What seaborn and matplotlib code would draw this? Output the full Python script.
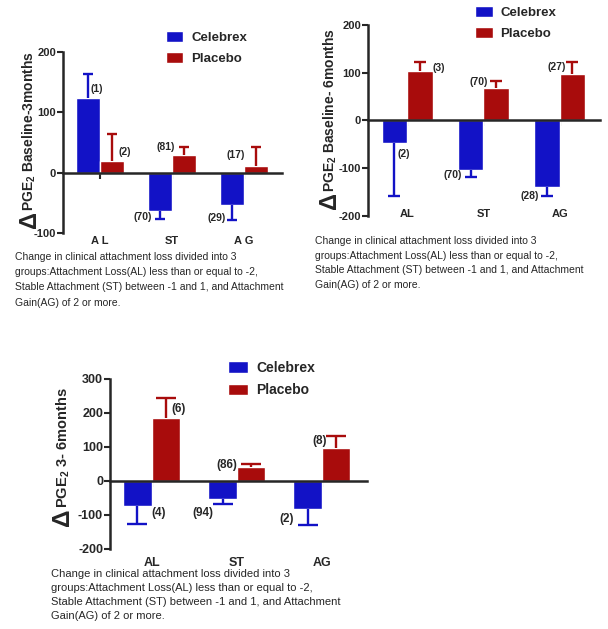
import matplotlib
matplotlib.use("Agg")
import matplotlib.pyplot as plt
import seaborn as sns
import pandas as pd

# Data
groups = ["Celebrex", "Placebo"]
bar_colors = ["#1212c6", "#a80c0c"]

# Baseline - 3 months
p1_cats = ["A L", "ST", "A G"]
p1_celebrex = [123, -64, -53]
p1_celebrex_err = [40, 13, 25]
p1_placebo = [19, 29, 11]
p1_placebo_err = [45, 13, 32]
p1_celebrex_n = ["(1)", "(70)", "(29)"]
p1_placebo_n = ["(2)", "(81)", "(17)"]
p1_yticks = [-100, 0, 100, 200]

# Baseline - 6 months
p2_cats = ["AL", "ST", "AG"]
p2_celebrex = [-47, -103, -140]
p2_celebrex_err = [111, 16, 18]
p2_placebo = [103, 67, 98]
p2_placebo_err = [19, 15, 24]
p2_celebrex_n = ["(2)", "(70)", "(28)"]
p2_placebo_n = ["(3)", "(70)", "(27)"]
p2_yticks = [-200, -100, 0, 100, 200]

# 3 - 6 months
p3_cats = ["AL", "ST", "AG"]
p3_celebrex = [-74, -54, -83]
p3_celebrex_err = [53, 13, 47]
p3_placebo = [184, 40, 98]
p3_placebo_err = [59, 9, 34]
p3_celebrex_n = ["(4)", "(94)", "(2)"]
p3_placebo_n = ["(6)", "(86)", "(8)"]
p3_yticks = [-200, -100, 0, 100, 200, 300]

caption = ("Change in clinical attachment loss divided into 3\n"
           "groups:Attachment Loss(AL) less than or equal to -2,\n"
           "Stable Attachment (ST) between -1 and 1, and Attachment\n"
           "Gain(AG) of 2 or more.")

sns.set_style("ticks")
plt.rcParams["font.family"] = ["Liberation Sans", "DejaVu Sans"]
plt.rcParams["axes.unicode_minus"] = False
plt.rcParams["mathtext.fontset"] = "custom"
plt.rcParams["mathtext.rm"] = "Liberation Sans:bold"
plt.rcParams["mathtext.it"] = "Liberation Sans:bold"

fig = plt.figure(figsize=(6.08, 6.29), dpi=100)


def draw_panel(rect, cats, cel, cel_err, pla, pla_err, cel_n, pla_n, yticks,
               ylabel, lab_x, lab_y, sec_loc, xlim, capsize, tick_fs, ylab_fs,
               cel_off, pla_off, leg_xy, leg_fs, handle_len):
    ax = fig.add_axes(rect)
    df = pd.DataFrame({
        "cat": cats * 2,
        "group": [groups[0]] * len(cats) + [groups[1]] * len(cats),
        "value": cel + pla,
    })
    sns.barplot(data=df, x="cat", y="value", hue="group", hue_order=groups,
                palette=bar_colors, width=0.67, errorbar=None, saturation=1,
                ax=ax)

    # one-sided error bars + n labels
    for cont, vals, errs, ns, offs, col in zip(
            ax.containers, [cel, pla], [cel_err, pla_err], [cel_n, pla_n],
            [cel_off, pla_off], bar_colors):
        for bar, v, e, n, (dx, dy, ha) in zip(cont, vals, errs, ns, offs):
            xc = bar.get_x() + bar.get_width() / 2
            yerr = [[0], [e]] if v >= 0 else [[e], [0]]
            eb = ax.errorbar(xc, v, yerr=yerr, fmt="none", ecolor=col,
                             elinewidth=1.7, capsize=capsize, capthick=1.7)
            # no cap on the bar end
            for cap in eb[1]:
                if abs(cap.get_ydata()[0] - v) < 1e-9:
                    cap.set_visible(False)
            end = v + e if v >= 0 else v - e
            ax.annotate(n, (xc, end), xytext=(dx, dy),
                        textcoords="offset pixels", ha=ha, va="center",
                        fontsize=tick_fs - 0.5, fontweight="bold")

    ax.set_xlim(*xlim)
    ax.set_ylim(yticks[0], yticks[-1])
    ax.set_yticks(yticks)
    ax.set_xlabel("")
    ax.set_ylabel("")
    for s in ["top", "right"]:
        ax.spines[s].set_visible(False)
    ax.spines["left"].set_linewidth(1.8)
    ax.spines["bottom"].set_position(("data", 0))
    ax.spines["bottom"].set_linewidth(1.8)
    ax.tick_params(axis="x", length=4, width=1.5, labelbottom=False)
    ax.tick_params(axis="y", length=4, width=1.5, labelsize=tick_fs, pad=1)
    for t in ax.get_yticklabels():
        t.set_fontweight("bold")

    # category names under the plot
    sec = ax.secondary_xaxis(sec_loc)
    sec.set_xticks(range(len(cats)))
    sec.set_xticklabels(cats, fontweight="bold", fontsize=tick_fs)
    sec.tick_params(length=0, pad=2)
    for s in sec.spines.values():
        s.set_visible(False)

    # y label with a large delta
    ax.text(lab_x, lab_y, ylabel, rotation=90, ha="center", va="bottom",
            transform=ax.transAxes, fontsize=ylab_fs, fontweight="bold")
    ax.text(lab_x, lab_y, "\u0394", rotation=90, ha="center", va="top",
            transform=ax.transAxes, fontsize=ylab_fs + 7, fontweight="bold")

    handles, labels = ax.get_legend_handles_labels()
    ax.legend(handles, labels, loc="upper left", bbox_to_anchor=leg_xy,
              bbox_transform=fig.transFigure, frameon=False, borderpad=0,
              borderaxespad=0, handlelength=handle_len, handleheight=0.9,
              handletextpad=0.6, labelspacing=0.6,
              prop={"weight": "bold", "size": leg_fs})
    return ax


draw_panel([0.1036, 0.6296, 0.360, 0.2878], p1_cats,
           p1_celebrex, p1_celebrex_err, p1_placebo, p1_placebo_err,
           p1_celebrex_n, p1_placebo_n, p1_yticks,
           "PGE$_2$ Baseline-3months", -0.155, 0.12, 0.0, (-0.514, 2.53),
           3.5, 8, 10,
           [(3, -15, "left"), (-8, 2, "right"), (-6, 2, "right")],
           [(7, -18, "left"), (-9, 0, "right"), (-11, -8, "right")],
           (0.273, 0.951), 9.5, 1.3)

draw_panel([0.6053, 0.6566, 0.3816, 0.3037], p2_cats,
           p2_celebrex, p2_celebrex_err, p2_placebo, p2_placebo_err,
           p2_celebrex_n, p2_placebo_n, p2_yticks,
           "PGE$_2$ Baseline- 6months", -0.164, 0.126, 0.052, (-0.513, 2.53),
           4.5, 8, 10,
           [(3, 42, "left"), (-9, 2, "right"), (-8, 0, "right")],
           [(13, -6, "left"), (-8, -1, "right"), (-7, -5, "right")],
           (0.781, 0.990), 9.5, 1.35)

draw_panel([0.1809, 0.1272, 0.4227, 0.2703], p3_cats,
           p3_celebrex, p3_celebrex_err, p3_placebo, p3_placebo_err,
           p3_celebrex_n, p3_placebo_n, p3_yticks,
           "PGE$_2$ 3- 6months", -0.183, 0.241, -0.03, (-0.49, 2.53),
           7, 9, 10.5,
           [(14, 11, "left"), (-9, -9, "right"), (-14, 6, "right")],
           [(5, -11, "left"), (-14, -1, "right"), (-9, -5, "right")],
           (0.375, 0.426), 10, 1.45)

fig.text(15 / 608, 1 - 252 / 629, caption, fontsize=7.5, va="top",
         ha="left", linespacing=1.65)
fig.text(315 / 608, 1 - 236 / 629, caption, fontsize=7.5, va="top",
         ha="left", linespacing=1.58)
fig.text(51 / 608, 1 - 569 / 629, caption, fontsize=8, va="top",
         ha="left", linespacing=1.52)

fig.savefig("out.png", dpi=100)
